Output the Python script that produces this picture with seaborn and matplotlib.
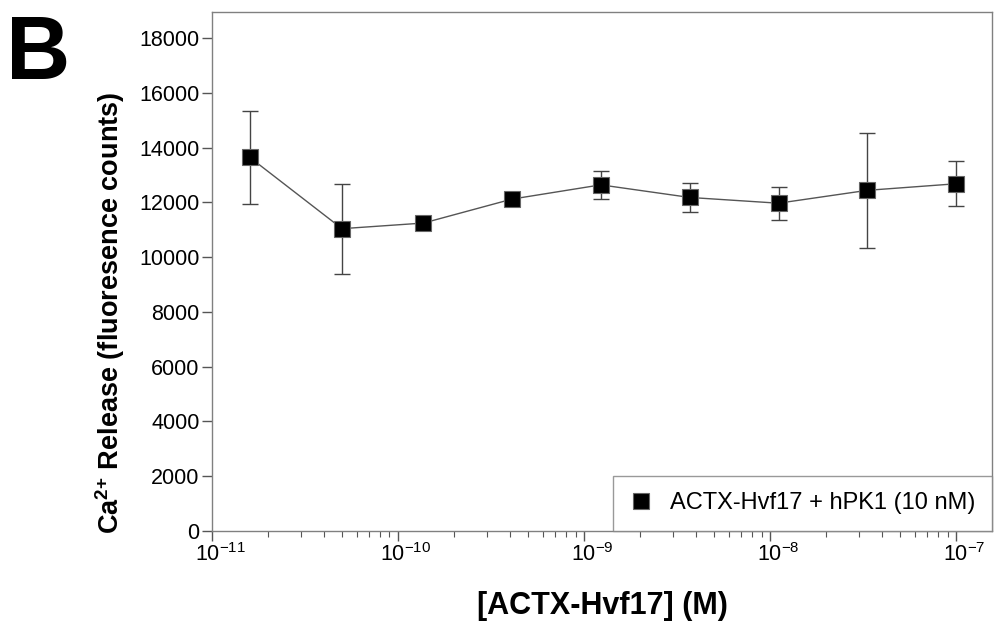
import matplotlib
matplotlib.use("Agg")
import matplotlib.pyplot as plt
import matplotlib.transforms as mtransforms
import seaborn as sns
import numpy as np
import pandas as pd
from matplotlib.ticker import LogLocator, NullFormatter, FuncFormatter

conc = [1.6e-11, 5.0e-11, 1.37e-10, 4.1e-10, 1.23e-9, 3.7e-9, 1.11e-8, 3.33e-8, 1.0e-7]
release = [13640, 11040, 11245, 12120, 12640, 12180, 11970, 12440, 12680]
err = [1690, 1640, 150, 150, 520, 530, 600, 2100, 820]
series_label = "ACTX-Hvf17 + hPK1 (10 nM)"
x_major = [1e-11, 1e-10, 1e-9, 1e-8, 1e-7]

sns.set_style("ticks")
plt.rcParams['font.family'] = ['Liberation Sans', 'DejaVu Sans']
plt.rcParams['mathtext.fontset'] = 'custom'
plt.rcParams['mathtext.rm'] = 'Liberation Sans'
plt.rcParams['mathtext.bf'] = 'Liberation Sans:bold'
plt.rcParams['mathtext.it'] = 'Liberation Sans:italic'
plt.rcParams['text.color'] = 'black'
plt.rcParams['axes.labelcolor'] = 'black'

df = pd.DataFrame({"conc": conc, "release": release, "err": err, "series": series_label})

fig = plt.figure(figsize=(9.97, 6.35), dpi=100)
ax = fig.add_axes([0.2126, 0.1638, 0.995 - 0.2126, 0.981 - 0.1638])

ax.errorbar(df["conc"], df["release"], yerr=df["err"], fmt="none", ecolor="#444444",
            elinewidth=1.0, capsize=6, capthick=1.0, zorder=2)
sns.lineplot(data=df, x="conc", y="release", ax=ax, color="#555555", linewidth=1.0,
             marker="s", markersize=11.5, markerfacecolor="black", markeredgecolor="#666666",
             markeredgewidth=0.8, label=series_label, zorder=3)

ax.set_xscale("log")
ax.set_xlim(1e-11, 10 ** -6.807)
ax.set_ylim(0, 18950)
ax.set_yticks(np.arange(0, 18001, 2000))
ax.set_xticks(x_major)
ax.xaxis.set_minor_locator(LogLocator(base=10, subs=np.arange(2, 10), numticks=100))
ax.xaxis.set_minor_formatter(NullFormatter())
ax.xaxis.set_major_formatter(FuncFormatter(lambda v, p: "10$^{\\mathrm{-%d}}$" % round(-np.log10(v))))

for s in ax.spines.values():
    s.set_visible(True)
    s.set_color("#808080")
    s.set_linewidth(1.0)

ax.tick_params(axis="both", which="major", direction="out", length=7, width=1.0,
               color="#555555", labelsize=15.5, labelcolor="black", pad=2)
ax.tick_params(axis="x", which="minor", direction="out", length=4, width=0.8, color="#555555")

shift = mtransforms.ScaledTranslation(8 / 100, 0, fig.dpi_scale_trans)
for lab in ax.get_xticklabels():
    lab.set_transform(lab.get_transform() + shift)

ax.set_xlabel("[ACTX-Hvf17] (M)", fontsize=22, fontweight="bold", labelpad=18)
ax.set_ylabel("Ca$^{\\mathbf{2{+}}}$ Release (fluoresence counts)", fontsize=19.5,
              fontweight="bold", labelpad=6)
ax.yaxis.set_label_coords(-0.109, 0.42)

leg = ax.legend(loc="lower right", frameon=True, fontsize=17, fancybox=False,
                borderaxespad=0, handlelength=0.9, handletextpad=0.8, borderpad=0.7,
                edgecolor="#808080", markerscale=1.0)
leg.get_frame().set_linewidth(1.0)
for h in leg.legend_handles:
    h.set_linestyle("none")

fig.text(0.006, 0.978, "B", fontsize=64, fontweight="bold", va="top", ha="left", color="black")

fig.savefig("out.png", dpi=100, facecolor="white")
